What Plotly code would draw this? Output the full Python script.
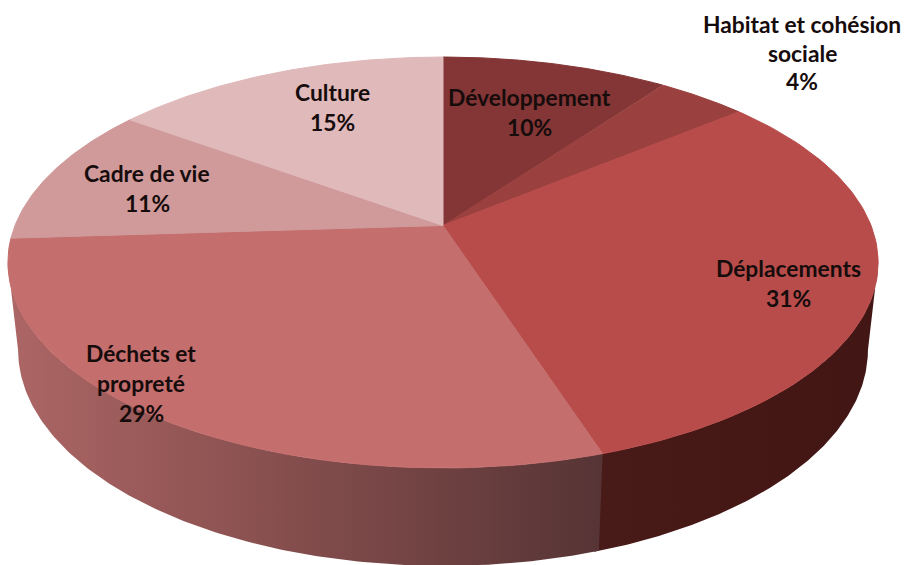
import numpy as np
import plotly.graph_objects as go

# Budget shares, clockwise from twelve o'clock
categories = ["Développement", "Habitat et cohésion sociale", "Déplacements",
              "Déchets et propreté", "Cadre de vie", "Culture"]
shares = [10, 4, 31, 29, 11, 15]
top_colors = ["#843535", "#9a403e", "#b84c4a", "#c46e6d", "#d09a9a", "#e0b9ba"]

# Label lines and their anchor on the canvas, one entry per category
label_lines = [["Développement", "10%"],
               ["Habitat et cohésion", "sociale", "4%"],
               ["Déplacements", "31%"],
               ["Déchets et", "propreté", "29%"],
               ["Cadre de vie", "11%"],
               ["Culture", "15%"]]
label_anchor = [(529, 97), (802, 24), (788, 268), (141, 353), (147, 173), (332, 92)]
line_step = [30, 28.5, 30, 30, 30, 30]

# Side wall shading, left to right across each slice that shows a wall
wall_colors = {2: ["#481a18", "#421614"],
               3: ["#ac6665", "#915554", "#744444", "#563435"]}
LABEL_FONT = dict(family="Lato", size=22.8, color="#160c0c", weight="bold")

# Perspective disc: apex, half-axes and foreshortening of the top and bottom faces
CX, CY = 443, 225.5
TOP_A, TOP_B = 428, 198.8
BOT_A, BOT_B, BOT_DROP = 418, 209, 85.5
K = 0.18


def rim(theta, a, b, cy):
    den = 1 + K * np.cos(theta)
    return CX + a * np.sin(theta) / den, cy - b * np.cos(theta) / den


edges = np.radians(np.concatenate([[0], np.cumsum(shares)]) * 3.6)
# Rim angles where the disc's outline turns from the top face to the wall
tangent = np.arccos(-K)
fig = go.Figure()

# Side wall: one polygon per slice, filled with a horizontal gradient.
# Each slice runs a touch past its end so the next one covers the join.
for i, stops in wall_colors.items():
    start = max(edges[i], tangent)
    end = min(edges[i + 1] + 0.01, 2 * np.pi - tangent)
    arc = np.linspace(start, end, 160)
    tx, ty = rim(arc, TOP_A, TOP_B, CY)
    bx, by = rim(arc, BOT_A, BOT_B, CY + BOT_DROP)
    scale = [[j / (len(stops) - 1), c] for j, c in enumerate(stops)]
    fig.add_trace(go.Scatter(
        x=np.r_[tx, bx[::-1], tx[0]], y=np.r_[ty, by[::-1], ty[0]],
        mode="lines", fill="toself", line=dict(width=0),
        fillgradient=dict(type="horizontal", colorscale=scale),
        hoverinfo="skip", showlegend=False))

# Top face wedges
for i, color in enumerate(top_colors):
    arc = np.linspace(edges[i], edges[i + 1], 90)
    x, y = rim(arc, TOP_A, TOP_B, CY)
    fig.add_trace(go.Scatter(
        x=np.r_[CX, x, CX], y=np.r_[CY, y, CY], mode="lines", fill="toself",
        fillcolor=color, line=dict(color=color, width=1),
        hoverinfo="skip", showlegend=False))

# Category names and percentages
for lines, (ax, ay), step in zip(label_lines, label_anchor, line_step):
    for j, line in enumerate(lines):
        fig.add_annotation(x=ax, y=ay + j * step, text=line, showarrow=False,
                           xanchor="center", yanchor="middle", font=LABEL_FONT)

fig.update_xaxes(range=[0, 904], visible=False, fixedrange=True)
fig.update_yaxes(range=[565, 0], visible=False, fixedrange=True)
fig.update_layout(width=904, height=565, margin=dict(l=0, r=0, t=0, b=0),
                  paper_bgcolor="white", plot_bgcolor="white", showlegend=False)

fig.write_html("out.html", config={"displayModeBar": False})
